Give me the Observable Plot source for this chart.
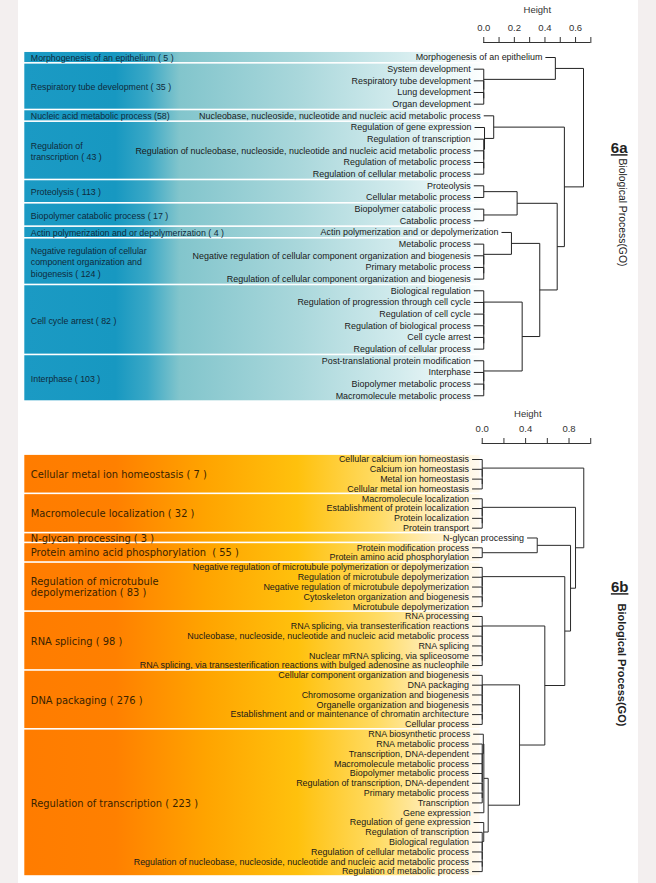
<!DOCTYPE html>
<html><head><meta charset="utf-8">
<script src="https://cdn.jsdelivr.net/npm/d3@7"></script>
<script src="https://cdn.jsdelivr.net/npm/@observablehq/plot@0.6"></script>
<style>
html,body{margin:0;padding:0;background:#f3efef;}
#page{position:relative;width:656px;height:883px;overflow:hidden;}
#paper{position:absolute;left:18px;top:0;width:620px;height:883px;background:#fff;}
#top{position:absolute;left:0;top:0;}
#bottom{position:absolute;left:0;top:405px;}
</style></head><body>
<div id="page"><div id="paper"></div><div id="top"></div><div id="bottom"></div></div>
<script>
// ================= DATA =================
// --- 6a ---
const topLeaves = [
  "Morphogenesis of an epithelium","System development","Respiratory tube development","Lung development","Organ development",
  "Nucleobase, nucleoside, nucleotide and nucleic acid metabolic process","Regulation of gene expression","Regulation of transcription",
  "Regulation of nucleobase, nucleoside, nucleotide and nucleic acid metabolic process","Regulation of metabolic process",
  "Regulation of cellular metabolic process","Proteolysis","Cellular metabolic process","Biopolymer catabolic process","Catabolic process",
  "Actin polymerization and or depolymerization","Metabolic process","Negative regulation of cellular component organization and biogenesis",
  "Primary metabolic process","Regulation of cellular component organization and biogenesis","Biological regulation",
  "Regulation of progression through cell cycle","Regulation of cell cycle","Regulation of biological process","Cell cycle arrest",
  "Regulation of cellular process","Post-translational protein modification","Interphase","Biopolymer metabolic process",
  "Macromolecule metabolic process"
];
// hclust-style merge table (negative = leaf number, positive = earlier merge step)
const topMergeL = [-4,-3,-2,-1,-10,-9,-8,-7,-6,-12,-14,10,-19,-18,-17,-16,-25,-24,-23,-22,-21,-29,-28,-27,21,16,12,9,4];
const topMergeR = [-5, 1, 2, 3,-11, 5, 6, 7, 8,-13,-15,11,-20, 13, 14, 15,-26, 17, 18, 19, 20,-30, 22, 23,24,25,26,27,28];
const topHeight = [0,0,0,0.468,0,0,0,0.005,0.065,0,0,0.218,0,0,0,0.181,0,0,0,0,0,0,0,0,0.251,0.366,0.48,0.527,0.652];
const topGroups = [
  "Morphogenesis of an epithelium ( 5 )","Respiratory tube development ( 35 )","Nucleic acid metabolic process (58)",
  "Regulation of\ntranscription ( 43 )","Proteolysis ( 113 )","Biopolymer catabolic process ( 17 )",
  "Actin polymerization and or depolymerization ( 4 )",
  "Negative regulation of cellular\ncomponent organization and\nbiogenesis ( 124 )","Cell cycle arrest ( 82 )","Interphase ( 103 )"
];
const topGroupSizes = [1,4,1,5,2,2,1,4,6,4];
const topTicks = [0,0.1,0.2,0.3,0.4,0.5,0.6,0.7];
const topTickLabels = ["0.0","","0.2","","0.4","","0.6",""];

// --- 6b ---
const botLeaves = [
  "Cellular calcium ion homeostasis","Calcium ion homeostasis","Metal ion homeostasis","Cellular metal ion homeostasis",
  "Macromolecule localization","Establishment of protein localization","Protein localization","Protein transport",
  "N-glycan processing","Protein modification process","Protein amino acid phosphorylation",
  "Negative regulation of microtubule polymerization or depolymerization","Regulation of microtubule depolymerization",
  "Negative regulation of microtubule depolymerization","Cytoskeleton organization and biogenesis","Microtubule depolymerization",
  "RNA processing","RNA splicing, via transesterification reactions","Nucleobase, nucleoside, nucleotide and nucleic acid metabolic process",
  "RNA splicing","Nuclear mRNA splicing, via spliceosome",
  "RNA splicing, via transesterification reactions with bulged adenosine as nucleophile",
  "Cellular component organization and biogenesis","DNA packaging","Chromosome organization and biogenesis",
  "Organelle organization and biogenesis","Establishment and or maintenance of chromatin architecture","Cellular process",
  "RNA biosynthetic process","RNA metabolic process","Transcription, DNA-dependent","Macromolecule metabolic process",
  "Biopolymer metabolic process","Regulation of transcription, DNA-dependent","Primary metabolic process","Transcription",
  "Gene expression","Regulation of gene expression","Regulation of transcription","Biological regulation",
  "Regulation of cellular metabolic process",
  "Regulation of nucleobase, nucleoside, nucleotide and nucleic acid metabolic process","Regulation of metabolic process"
];
const botMergeL = [-3,-2,-1,-7,-6,-5,-10,-9,-15,-14,-13,-12,-21,-20,-19,-18,-17,-27,-26,-25,-24,-23,-35,-34,-33,-32,-31,-30,-29,29,-42,-41,-40,-39,-38,30,22,17,12,8,6,3];
const botMergeR = [-4, 1, 2,-8, 4, 5,-11, 7,-16,  9, 10, 11,-22, 13, 14, 15, 16,-28, 18, 19, 20, 21,-36, 23, 24, 25, 26, 27, 28,-37,-43, 31, 32, 33, 34,35,36,37,38,39,40,41];
const botHeight = [0,0,0,0,0,0,0,0.507,0,0,0,0,0,0,0,0,0,0,0,0,0,0,0,0,0,0,0,0,0.01,0.015,0,0,0,0,0.014,0.055,0.344,0.577,0.761,0.814,0.86,0.936];
const botGroups = [
  "Cellular metal ion homeostasis ( 7 )","Macromolecule localization ( 32 )","N-glycan processing ( 3 )",
  "Protein amino acid phosphorylation  ( 55 )","Regulation of microtubule\ndepolymerization ( 83 )","RNA splicing ( 98 )",
  "DNA packaging ( 276 )","Regulation of transcription ( 223 )"
];
const botGroupSizes = [4,4,1,2,5,6,6,15];
const botTicks = [0,0.2,0.4,0.6,0.8,1.0];
const botTickLabels = ["0.0","","0.4","","0.8",""];

// ================= HELPERS =================
function layoutTree(mL, mR, mH) {
  const hang = 0.1 * Math.max(...mH);
  const ny = [], segs = [], leafEnd = [];
  const yOf = k => k < 0 ? -k : ny[k - 1];
  const xOf = (k, h) => k < 0 ? h - hang : mH[k - 1];
  for (let i = 0; i < mL.length; i++) {
    const a = mL[i], b = mR[i], h = mH[i];
    const ya = yOf(a), yb = yOf(b);
    ny.push((ya + yb) / 2);
    segs.push({x1: h, y1: ya, x2: h, y2: yb});
    segs.push({x1: xOf(a, h), y1: ya, x2: h, y2: ya});
    segs.push({x1: xOf(b, h), y1: yb, x2: h, y2: yb});
    if (a < 0) leafEnd[-a] = h - hang;
    if (b < 0) leafEnd[-b] = h - hang;
  }
  return {segs, leafEnd};
}
function groupsOf(labels, sizes) {
  let s = 1;
  return labels.map((label, i) => {
    const g = {label, y1: s - 0.5, y2: s + sizes[i] - 0.5, mid: s + (sizes[i] - 1) / 2};
    s += sizes[i];
    return g;
  });
}
function addGradient(svg, id, marker, stops) {
  const s = d3.select(svg);
  const lg = s.insert("defs", ":first-child").append("linearGradient")
    .attr("id", id).attr("x1", 0).attr("x2", 1).attr("y1", 0).attr("y2", 0);
  stops.forEach(([o, c]) => lg.append("stop").attr("offset", o).attr("stop-color", c));
  s.selectAll(`[fill="${marker}"]`).attr("fill", `url(#${id})`);
}
function underline(svg, str) {
  d3.select(svg).selectAll("text").filter(function(){ return this.textContent === str; })
    .style("text-decoration", "underline");
}

const FONT = "Liberation Sans, Arial, Helvetica, sans-serif";

// ================= 6a =================
{
  const t = layoutTree(topMergeL, topMergeR, topHeight);
  const leaves = topLeaves.map((label, i) => ({label, y: i + 1, x: t.leafEnd[i + 1]}));
  const groups = groupsOf(topGroups, topGroupSizes);
  const xDom = [-3, 0.75], yDom = [-0.286, 30.5];
  const marker = "#0a0b0c";
  const svg = Plot.plot({
    width: 656, height: 405,
    marginLeft: 24.3, marginRight: 58, marginTop: 42, marginBottom: 3.9,
    style: {fontFamily: FONT, background: "none", overflow: "visible"},
    x: {domain: xDom},
    y: {domain: yDom, reverse: true, axis: null},
    marks: [
      Plot.rect(groups, {x1: () => xDom[0], x2: () => -0.02, y1: "y1", y2: "y2", fill: marker, insetTop: 0.8, insetBottom: 0.8}),
      Plot.text(groups, {y: "mid", text: "label", frameAnchor: "left", dx: 6, textAnchor: "start", lineAnchor: "middle",
        lineHeight: 1.3, fontSize: 8.8, fill: "#0f2a3b"}),
      Plot.link(t.segs, {x1: "x1", y1: "y1", x2: "x2", y2: "y2", stroke: "#222", strokeWidth: 1}),
      Plot.text(leaves, {x: "x", y: "y", text: "label", textAnchor: "end", dx: -3, fontSize: 8.95, fill: "#1a1a1a"}),
      Plot.ruleY([yDom[0]], {x1: topTicks[0], x2: topTicks[topTicks.length - 1], stroke: "#333"}),
      Plot.axisX({anchor: "top", ticks: topTicks, tickFormat: (d, i) => topTickLabels[i], tickSize: 6, tickPadding: 6,
        fontSize: 9.5, fill: "#333", stroke: "#333", label: null}),
      Plot.text(["Height"], {x: () => (topTicks[0] + topTicks[topTicks.length - 1]) / 2, frameAnchor: "top", dy: -36, fontSize: 9.5, fill: "#333"}),
      Plot.text(["6a"], {frameAnchor: "top-right", dx: 29, dy: 100, fontSize: 15, fontWeight: "bold", fill: "#222"}),
      Plot.text(["Biological Process(GO)"], {frameAnchor: "top-right", dx: 28, dy: 116, rotate: 90, textAnchor: "start",
        fontSize: 10.4, fill: "#222"})
    ]
  });
  addGradient(svg, "gTop", marker, [
    [0, "#1b9ac4"], [0.2, "#1798c1"], [0.27, "#3aa8c6"], [0.34, "#82c5cc"], [0.6, "#a9d7db"], [0.82, "#d2ebed"], [1, "#fbfefe"]
  ]);
  underline(svg, "6a");
  document.getElementById("top").appendChild(svg);
}

// ================= 6b =================
{
  const t = layoutTree(botMergeL, botMergeR, botHeight);
  const leaves = botLeaves.map((label, i) => ({label, y: i + 1, x: t.leafEnd[i + 1]}));
  const groups = groupsOf(botGroups, botGroupSizes);
  const xDom = [-4.216, 1.08], yDom = [-0.631, 43.5];
  const marker = "#0c0b0a";
  const svg = Plot.plot({
    width: 656, height: 478,
    marginLeft: 24.3, marginRight: 57.1, marginTop: 38, marginBottom: 7,
    style: {fontFamily: FONT, background: "none", overflow: "visible"},
    x: {domain: xDom},
    y: {domain: yDom, reverse: true, axis: null},
    marks: [
      Plot.rect(groups, {x1: () => xDom[0], x2: () => -0.02, y1: "y1", y2: "y2", fill: marker, insetTop: 0.8, insetBottom: 0.8}),
      Plot.text(groups, {y: "mid", text: "label", frameAnchor: "left", dx: 6, textAnchor: "start", lineAnchor: "middle",
        lineHeight: 1.15, fontSize: 9.9, fontFamily: "DejaVu Sans, Verdana, sans-serif", fill: "#3a2300"}),
      Plot.link(t.segs, {x1: "x1", y1: "y1", x2: "x2", y2: "y2", stroke: "#2a2a2a", strokeWidth: 1}),
      Plot.text(leaves, {x: "x", y: "y", text: "label", textAnchor: "end", dx: -3, fontSize: 8.95, fill: "#1a1a1a"}),
      Plot.ruleY([yDom[0]], {x1: botTicks[0], x2: botTicks[botTicks.length - 1], stroke: "#333"}),
      Plot.axisX({anchor: "top", ticks: botTicks, tickFormat: (d, i) => botTickLabels[i], tickSize: 6, tickPadding: 6,
        fontSize: 9.5, fill: "#333", stroke: "#333", label: null}),
      Plot.text(["Height"], {x: () => 0.42, frameAnchor: "top", dy: -33, fontSize: 9.5, fill: "#333"}),
      Plot.text(["6b"], {frameAnchor: "top-right", dx: 29, dy: 138, fontSize: 15, fontWeight: "bold", fill: "#222"}),
      Plot.text(["Biological Process(GO)"], {frameAnchor: "top-right", dx: 26, dy: 160, rotate: 90, textAnchor: "start",
        fontSize: 11, fontWeight: "bold", fill: "#222"})
    ]
  });
  addGradient(svg, "gBot", marker, [
    [0, "#ff7c00"], [0.2, "#ff8000"], [0.4, "#ffa400"], [0.6, "#ffc10d"], [0.78, "#ffdc66"], [0.9, "#ffeebf"], [1, "#fffaf0"]
  ]);
  underline(svg, "6b");
  document.getElementById("bottom").appendChild(svg);
}
</script>
</body></html>
